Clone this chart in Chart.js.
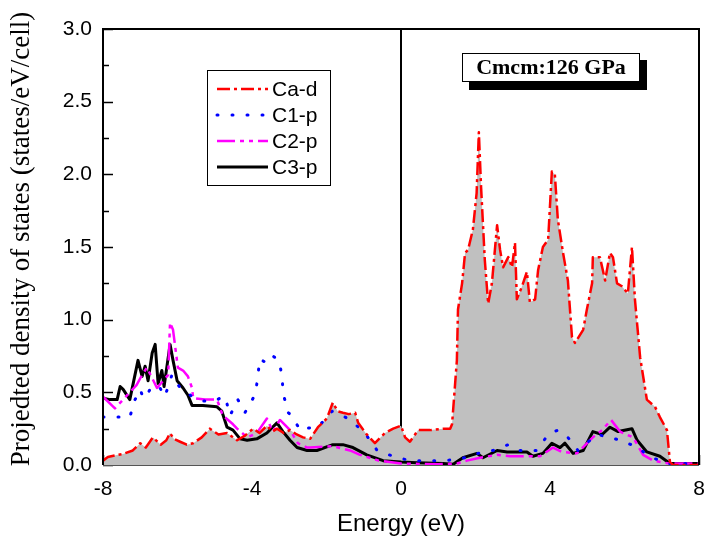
<!DOCTYPE html>
<html>
<head>
<meta charset="utf-8">
<script src="https://cdn.jsdelivr.net/npm/chart.js@4/dist/chart.umd.min.js"></script>
<style>
  html, body { margin: 0; padding: 0; background: #fff; }
  #wrap { width: 705px; height: 541px; }
</style>
</head>
<body>
<div id="wrap"><canvas id="dosChart"></canvas></div>
<script>
// Ca-d (red dash-dot, grey filled)
const caE = [-8.0, -7.87, -7.6, -7.46, -7.2, -7.0, -6.85, -6.66, -6.45, -6.3, -6.2, -6.1, -5.93, -5.75, -5.58, -5.35, -5.13, -4.9, -4.67, -4.4, -4.2, -3.97, -3.8, -3.6, -3.45, -3.33, -3.15, -2.98, -2.8, -2.63, -2.44, -2.23, -1.99, -1.83, -1.7, -1.56, -1.4, -1.23, -1.15, -0.92, -0.7, -0.55, -0.43, -0.21, 0.0, 0.11, 0.24, 0.46, 0.78, 1.13, 1.32, 1.37, 1.4, 1.45, 1.5, 1.53, 1.64, 1.72, 1.8, 1.93, 2.03, 2.09, 2.15, 2.25, 2.34, 2.44, 2.58, 2.66, 2.74, 2.88, 2.98, 3.06, 3.11, 3.25, 3.38, 3.46, 3.6, 3.68, 3.81, 3.95, 4.05, 4.13, 4.21, 4.35, 4.48, 4.59, 4.67, 4.89, 4.99, 5.13, 5.15, 5.34, 5.48, 5.61, 5.69, 5.8, 5.93, 6.09, 6.2, 6.28, 6.42, 6.6, 6.82, 6.95, 7.14, 7.22, 7.3, 8.0];
const caD = [0.03, 0.055, 0.07, 0.076, 0.10, 0.15, 0.12, 0.19, 0.14, 0.17, 0.22, 0.18, 0.16, 0.14, 0.15, 0.19, 0.25, 0.21, 0.22, 0.17, 0.20, 0.25, 0.22, 0.27, 0.23, 0.25, 0.22, 0.24, 0.21, 0.19, 0.18, 0.26, 0.32, 0.43, 0.37, 0.36, 0.35, 0.36, 0.29, 0.21, 0.15, 0.19, 0.22, 0.25, 0.27, 0.19, 0.16, 0.24, 0.24, 0.25, 0.25, 0.28, 0.38, 0.55, 0.72, 1.07, 1.25, 1.46, 1.48, 1.62, 1.87, 2.29, 1.91, 1.41, 1.11, 1.25, 1.65, 1.48, 1.36, 1.43, 1.36, 1.53, 1.14, 1.23, 1.33, 1.12, 1.14, 1.34, 1.50, 1.55, 2.02, 2.00, 1.69, 1.46, 1.27, 0.88, 0.84, 0.93, 1.07, 1.25, 1.43, 1.43, 1.27, 1.46, 1.43, 1.25, 1.23, 1.18, 1.50, 1.14, 0.74, 0.45, 0.40, 0.33, 0.24, 0.02, 0.0, 0.0];

// C1-p (blue dotted)
const c1E = [-8.0, -7.6, -7.28, -7.14, -7.0, -6.92, -6.82, -6.74, -6.6, -6.47, -6.34, -6.2, -6.15, -5.93, -5.6, -5.3, -5.0, -4.86, -4.72, -4.59, -4.38, -4.19, -3.97, -3.89, -3.84, -3.79, -3.6, -3.44, -3.28, -3.19, -3.17, -3.03, -2.93, -2.71, -2.66, -2.23, -1.85, -1.5, -1.23, -0.97, -0.64, -0.21, 0.24, 0.7, 1.13, 1.58, 2.07, 2.47, 2.88, 3.19, 3.65, 3.95, 4.21, 4.48, 4.75, 5.26, 5.61, 6.01, 6.34, 6.74, 7.2, 8.0];
const c1P = [0.33, 0.33, 0.33, 0.45, 0.52, 0.46, 0.48, 0.52, 0.55, 0.53, 0.47, 0.58, 0.62, 0.53, 0.47, 0.44, 0.44, 0.46, 0.47, 0.34, 0.45, 0.36, 0.46, 0.52, 0.62, 0.73, 0.70, 0.75, 0.72, 0.61, 0.50, 0.36, 0.34, 0.24, 0.25, 0.26, 0.37, 0.33, 0.28, 0.22, 0.10, 0.06, 0.03, 0.03, 0.03, 0.04, 0.08, 0.10, 0.14, 0.10, 0.10, 0.21, 0.24, 0.19, 0.10, 0.21, 0.19, 0.16, 0.12, 0.05, 0.01, 0.01];

// C2-p (magenta dash-dot-dot)
const c2E = [-8.0, -7.68, -7.46, -7.1, -6.95, -6.82, -6.55, -6.25, -6.2, -6.12, -6.07, -5.99, -5.85, -5.72, -5.61, -5.58, -5.26, -4.94, -4.78, -4.51, -4.4, -4.13, -3.87, -3.6, -3.44, -3.25, -2.98, -2.77, -2.52, -2.44, -1.83, -1.37, -1.1, -0.6, 0.0, 1.0, 1.5, 1.77, 2.12, 2.58, 2.93, 3.19, 3.73, 4.08, 4.32, 4.72, 5.15, 5.4, 5.64, 5.88, 6.23, 6.5, 6.77, 7.2, 8.0];
const c2P = [0.47, 0.39, 0.45, 0.55, 0.62, 0.67, 0.53, 0.62, 0.98, 0.93, 0.83, 0.67, 0.65, 0.61, 0.53, 0.46, 0.45, 0.45, 0.34, 0.28, 0.25, 0.19, 0.22, 0.32, 0.23, 0.31, 0.24, 0.15, 0.12, 0.12, 0.13, 0.10, 0.07, 0.03, 0.01, 0.005, 0.01, 0.03, 0.05, 0.07, 0.06, 0.06, 0.06, 0.12, 0.09, 0.08, 0.19, 0.24, 0.31, 0.23, 0.19, 0.07, 0.03, 0.01, 0.01];

// C3-p (black solid)
const c3E = [-8.0, -7.81, -7.62, -7.54, -7.46, -7.28, -7.06, -6.95, -6.87, -6.79, -6.68, -6.6, -6.52, -6.42, -6.36, -6.2, -6.12, -6.01, -5.85, -5.72, -5.61, -5.32, -4.94, -4.81, -4.67, -4.51, -4.32, -4.13, -3.87, -3.6, -3.33, -3.17, -2.98, -2.79, -2.52, -2.26, -1.83, -1.56, -1.29, -0.92, -0.48, 0.0, 0.43, 1.13, 1.4, 1.66, 2.04, 2.2, 2.58, 2.85, 3.11, 3.38, 3.54, 3.81, 4.05, 4.27, 4.4, 4.62, 4.89, 5.15, 5.4, 5.61, 5.83, 6.2, 6.34, 6.6, 6.95, 7.22, 8.0];
const c3P = [0.46, 0.45, 0.45, 0.54, 0.52, 0.45, 0.72, 0.61, 0.68, 0.58, 0.77, 0.83, 0.56, 0.65, 0.54, 0.83, 0.72, 0.58, 0.53, 0.48, 0.41, 0.41, 0.40, 0.37, 0.26, 0.24, 0.18, 0.17, 0.18, 0.22, 0.29, 0.23, 0.17, 0.12, 0.10, 0.10, 0.14, 0.14, 0.12, 0.07, 0.03, 0.02, 0.015, 0.01, 0.005, 0.05, 0.08, 0.05, 0.10, 0.09, 0.09, 0.09, 0.06, 0.08, 0.15, 0.12, 0.15, 0.08, 0.10, 0.23, 0.21, 0.26, 0.23, 0.25, 0.17, 0.09, 0.06, 0.01, 0.01];

const seriesNames = ['Ca-d', 'C1-p', 'C2-p', 'C3-p'];
const xTickValues = [-8, -4, 0, 4, 8];
const yTickValues = [0, 0.25, 0.5, 0.75, 1.0, 1.25, 1.5, 1.75, 2.0, 2.25, 2.5, 2.75, 3.0];
const boxText = 'Cmcm:126 GPa';
const xTitle = 'Energy (eV)';
const yTitle = 'Projedted density of states (states/eV/cell)';

const toPoints = (xs, ys) => xs.map((x, i) => ({ x: x, y: ys[i] }));

// inward ticks, bottom axis and the E=0 line, all under the grey fill
const underPlugin = {
    id: 'under',
    beforeDraw(chart) {
        const { ctx, chartArea: a, scales: { x, y } } = chart;
        ctx.save();
        ctx.strokeStyle = '#000';
        ctx.lineWidth = 1.5;
        yTickValues.forEach(v => {
            const py = Math.round(y.getPixelForValue(v)) + 0.5;
            const len = (v * 2) % 1 === 0 ? 10 : 6;
            ctx.beginPath();
            ctx.moveTo(a.left, py);
            ctx.lineTo(a.left + len, py);
            ctx.stroke();
        });
        for (let v = -8; v <= 8; v += 2) {
            const px = Math.round(x.getPixelForValue(v)) + 0.5;
            const len = v % 4 === 0 ? 10 : 6;
            ctx.beginPath();
            ctx.moveTo(px, a.bottom);
            ctx.lineTo(px, a.bottom - len);
            ctx.stroke();
        }
        ctx.lineWidth = 1;
        ctx.strokeStyle = '#555';
        ctx.beginPath();
        ctx.moveTo(a.left, a.bottom + 0.5);
        ctx.lineTo(a.right, a.bottom + 0.5);
        ctx.stroke();
        ctx.strokeStyle = '#000';
        ctx.lineWidth = 2;
        const x0 = x.getPixelForValue(0);
        ctx.beginPath();
        ctx.moveTo(x0, a.top);
        ctx.lineTo(x0, a.bottom);
        ctx.stroke();
        ctx.restore();
    }
};

const overPlugin = {
    id: 'over',
    afterDraw(chart) {
        const { ctx, chartArea: a } = chart;
        ctx.save();
        // frame: top, left, right
        ctx.strokeStyle = '#000';
        ctx.lineWidth = 2;
        ctx.beginPath();
        ctx.moveTo(a.left, a.bottom);
        ctx.lineTo(a.left, a.top);
        ctx.lineTo(a.right, a.top);
        ctx.lineTo(a.right, a.bottom);
        ctx.stroke();

        // y axis title
        ctx.save();
        ctx.translate(22, 239);
        ctx.rotate(-Math.PI / 2);
        ctx.fillStyle = '#000';
        ctx.font = '27px "Liberation Serif", "Times New Roman", serif';
        ctx.textAlign = 'center';
        ctx.textBaseline = 'middle';
        ctx.fillText(yTitle, 0, 0);
        ctx.restore();

        // legend
        ctx.lineWidth = 1;
        ctx.fillStyle = '#fff';
        ctx.fillRect(207.5, 70.5, 123, 115);
        ctx.strokeRect(207.5, 70.5, 123, 115);
        ctx.font = '21px "Liberation Sans", Arial, sans-serif';
        ctx.textBaseline = 'middle';
        chart.data.datasets.forEach((ds, i) => {
            const ly = 89 + i * 26;
            ctx.save();
            ctx.strokeStyle = ds.borderColor;
            ctx.lineWidth = ds.borderWidth;
            ctx.lineCap = ds.borderCapStyle || 'butt';
            ctx.setLineDash(ds.borderDash || []);
            ctx.beginPath();
            ctx.moveTo(217, ly);
            ctx.lineTo(268, ly);
            ctx.stroke();
            ctx.restore();
            ctx.fillStyle = '#000';
            ctx.fillText(ds.label, 272, ly + 1);
        });

        // shadowed label box
        ctx.fillStyle = '#000';
        ctx.fillRect(469, 60, 178, 30);
        ctx.fillStyle = '#fff';
        ctx.fillRect(462, 53, 178, 29);
        ctx.strokeRect(462.5, 53.5, 177, 28);
        ctx.fillStyle = '#000';
        ctx.font = 'bold 22px "Liberation Serif", "Times New Roman", serif';
        ctx.textAlign = 'center';
        ctx.fillText(boxText, 551, 68);
        ctx.restore();
    }
};

function initChart() {
    const ctx = document.getElementById('dosChart').getContext('2d');
    return new Chart(ctx, {
        type: 'line',
        data: {
            datasets: [
                { label: seriesNames[0], data: toPoints(caE, caD), borderColor: '#ff0000', borderWidth: 2.5, borderDash: [13, 4, 3, 4], fill: 'origin', backgroundColor: '#c0c0c0' },
                { label: seriesNames[1], data: toPoints(c1E, c1P), borderColor: '#0000ff', borderWidth: 3, borderDash: [1, 14], borderCapStyle: 'round', fill: false },
                { label: seriesNames[2], data: toPoints(c2E, c2P), borderColor: '#ff00ff', borderWidth: 2.5, borderDash: [18, 5, 4, 5, 4, 5], fill: false },
                { label: seriesNames[3], data: toPoints(c3E, c3P), borderColor: '#000000', borderWidth: 3, fill: false }
            ]
        },
        options: {
            animation: false,
            responsive: true,
            maintainAspectRatio: false,
            layout: { padding: { top: 29, right: 6, left: 0, bottom: 0 } },
            elements: { point: { radius: 0 }, line: { tension: 0, borderJoinStyle: 'round' } },
            plugins: {
                legend: { display: false },
                tooltip: { enabled: false },
                filler: { drawTime: 'beforeDatasetsDraw' }
            },
            scales: {
                x: {
                    type: 'linear',
                    min: -8,
                    max: 8,
                    afterBuildTicks: s => { s.ticks = xTickValues.map(v => ({ value: v })); },
                    afterFit: s => { s.height = 76; s.paddingLeft = 0; s.paddingRight = 0; },
                    grid: { display: false, drawTicks: false },
                    border: { display: false },
                    ticks: { padding: 12, color: '#000', font: { family: '"Liberation Sans", Arial', size: 21 }, maxRotation: 0, callback: v => String(v) },
                    title: { display: true, text: xTitle, color: '#000', font: { family: '"Liberation Sans", Arial', size: 24 }, padding: { top: 0, bottom: 2 } }
                },
                y: {
                    min: 0,
                    max: 3,
                    afterBuildTicks: s => { s.ticks = yTickValues.filter(v => (v * 2) % 1 === 0).map(v => ({ value: v })); },
                    afterFit: s => { s.width = 103; s.paddingTop = 0; s.paddingBottom = 0; },
                    grid: { display: false, drawTicks: false },
                    border: { display: false },
                    ticks: { padding: 11, color: '#000', font: { family: '"Liberation Sans", Arial', size: 21 }, callback: v => v.toFixed(1) }
                }
            }
        },
        plugins: [underPlugin, overPlugin]
    });
}

let dosChart = initChart();
</script>
</body>
</html>
